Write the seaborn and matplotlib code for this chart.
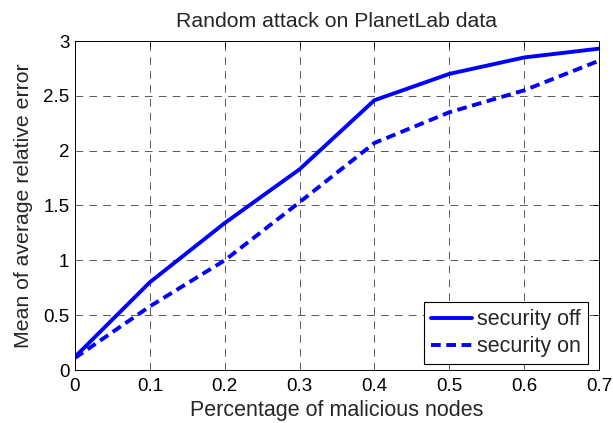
import matplotlib
matplotlib.use("Agg")
import matplotlib.pyplot as plt
import seaborn as sns
import pandas as pd
import numpy as np

x_vals = [0.0, 0.1, 0.2, 0.3, 0.4, 0.5, 0.6, 0.7]
security_off = [0.12, 0.80, 1.34, 1.83, 2.46, 2.70, 2.85, 2.93]
security_on = [0.11, 0.58, 1.00, 1.53, 2.07, 2.35, 2.55, 2.82]
series_names = ["security off", "security on"]
x_ticks = [0, 0.1, 0.2, 0.3, 0.4, 0.5, 0.6, 0.7]
x_tick_labels = ["0", "0.1", "0.2", "0.3", "0.4", "0.5", "0.6", "0.7"]
y_ticks = [0, 0.5, 1, 1.5, 2, 2.5, 3]
y_tick_labels = ["0", "0.5", "1", "1.5", "2", "2.5", "3"]

df = pd.DataFrame({
    "x": x_vals * 2,
    "y": security_off + security_on,
    "series": [series_names[0]] * len(x_vals) + [series_names[1]] * len(x_vals),
})

sns.set_style("white")
plt.rcParams["font.family"] = ["Liberation Sans", "DejaVu Sans"]
plt.rcParams["lines.scale_dashes"] = False

fig = plt.figure(figsize=(6.13, 4.23), dpi=100)
ax = fig.add_axes([75 / 613, 53 / 423, 524 / 613, 329 / 423])

sns.lineplot(data=df, x="x", y="y", hue="series", style="series",
             palette={series_names[0]: "#0000ff", series_names[1]: "#0000ff"},
             dashes={series_names[0]: "", series_names[1]: (7, 4)},
             linewidth=2.8, ax=ax, legend=True)

ax.set_xlim(0, 0.7)
ax.set_ylim(0, 3)
ax.set_xticks(x_ticks)
ax.set_xticklabels(x_tick_labels)
ax.set_yticks(y_ticks)
ax.set_yticklabels(y_tick_labels)
ax.tick_params(direction="in", length=4, width=0.6, top=True, right=True,
               labelsize=13.5, colors="black")
ax.tick_params(axis="x", pad=6)
ax.tick_params(axis="y", pad=4)
ax.grid(True, color="black", linestyle=(0, (5.5, 4.5)), linewidth=0.5, alpha=0.9)
for s in ax.spines.values():
    s.set_color("black")
    s.set_linewidth(0.7)

ax.set_title("Random attack on PlanetLab data", fontsize=15.3, pad=10)
ax.set_xlabel("Percentage of malicious nodes", fontsize=15.5, labelpad=3)
ax.set_ylabel("Mean of average relative error", fontsize=15.3, labelpad=7)

leg = ax.legend(loc="lower right", bbox_to_anchor=(0.979, 0.018), borderaxespad=0,
                fontsize=15.5, frameon=True, fancybox=False,
                edgecolor="black", framealpha=1,
                handlelength=1.9, handletextpad=0.25, borderpad=0.32, labelspacing=0.28)
leg.get_frame().set_linewidth(0.8)
for lh in leg.get_lines():
    lh.set_linewidth(2.8)

fig.savefig("out.png", dpi=100, facecolor="white")
